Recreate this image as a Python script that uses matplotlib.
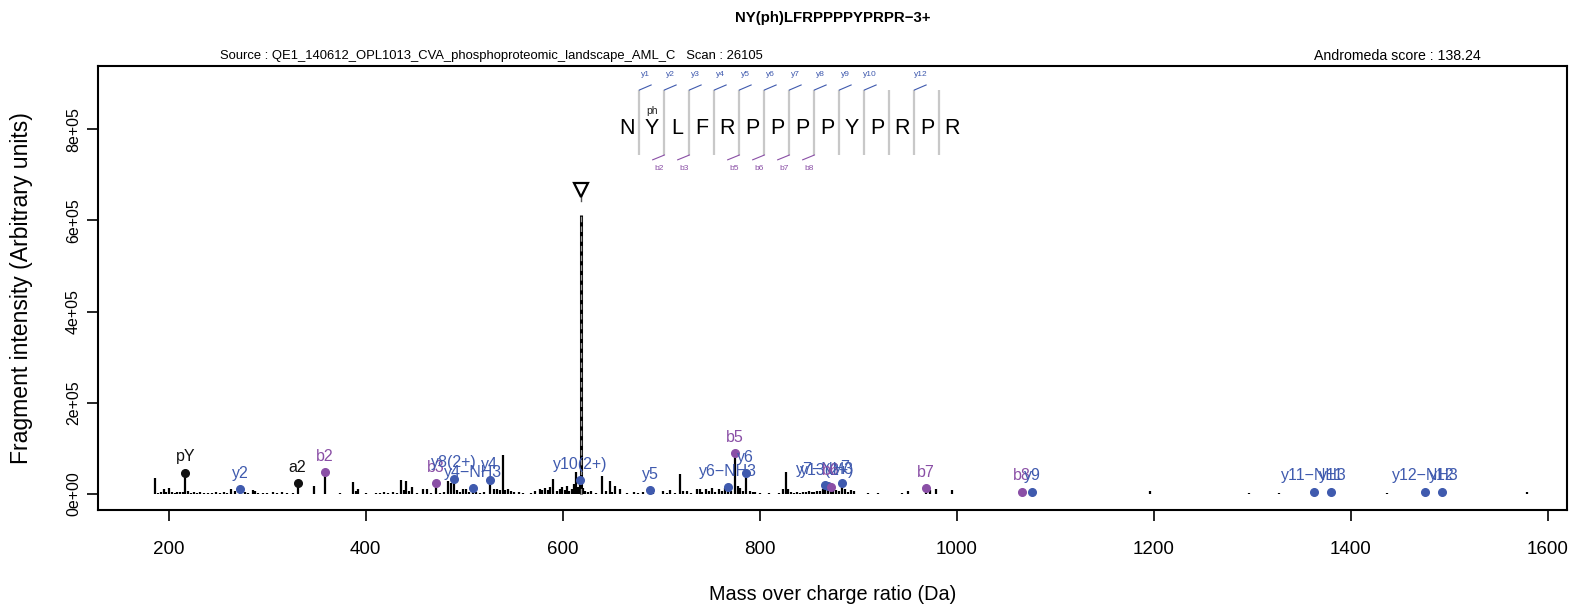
import matplotlib
matplotlib.use("Agg")
import matplotlib.pyplot as plt
import numpy as np

plt.rcParams['font.family'] = ['Liberation Sans', 'DejaVu Sans']

# ---- data ----
title = "NY(ph)LFRPPPPYPRPR\u22123+"
source_txt = "Source : QE1_140612_OPL1013_CVA_phosphoproteomic_landscape_AML_C   Scan : 26105"
score_txt = "Andromeda score : 138.24"

# unannotated peaks (m/z, intensity)
peak_mz = [186, 189, 192, 195, 197, 200, 203, 206, 209, 212, 215, 220, 223, 226, 229, 232,
           236, 240, 244, 248, 252, 256, 259, 263, 267, 278, 281, 286, 288, 291, 296, 300,
           306, 310, 315, 320, 326, 348, 374, 387, 390, 392, 400, 411, 415, 419, 423, 428,
           432, 436, 439, 441, 444, 447, 452, 458, 462, 466, 476, 480, 484, 487, 493, 496,
           499, 502, 505, 512, 516, 520, 530, 533, 536, 539.4, 542, 545, 548, 551, 556, 560,
           568, 572, 577, 579, 582, 585, 587, 590, 594, 597, 599, 602, 604, 607, 610, 612,
           614, 616, 621, 623, 626, 629, 634, 640, 644, 648, 650, 653, 658, 665, 672, 677,
           682, 692, 702, 706, 709, 714, 719, 722, 726, 730, 736, 739, 742, 746, 749, 752,
           755, 759, 762, 765, 771, 778, 780, 783, 790, 793, 795, 800, 810, 820, 824, 827,
           829, 832, 835, 838, 841, 844, 847, 850, 853, 855, 858, 861, 864, 869, 875, 878,
           881, 887, 890, 893, 896, 910, 920, 945, 951, 973, 979, 995, 1196, 1297, 1327,
           1437, 1579]
peak_int = [35000, 3000, 4000, 12000, 5000, 14000, 4000, 3000, 5000, 3500, 4000, 6000, 3000,
            4000, 3000, 3500, 2500, 3000, 2000, 3500, 2500, 5000, 3000, 12000, 6000, 4000,
            3000, 8000, 6000, 3000, 3000, 2500, 4000, 2000, 4000, 2000, 2500, 17000, 3000,
            27000, 6000, 10000, 2000, 3000, 2500, 3500, 2500, 4000, 3000, 30000, 9000, 29000,
            6000, 16000, 3000, 11000, 12000, 3000, 3000, 5000, 28000, 25000, 8000, 4000,
            12000, 10000, 5000, 4000, 3000, 5000, 10000, 12000, 9000, 85500, 8000, 10000,
            6000, 4000, 5000, 2500, 3000, 6000, 12000, 8000, 14000, 9000, 15000, 33000, 6000,
            10000, 16000, 8000, 17000, 7000, 12000, 22000, 48000, 15000, 14000, 6000, 4000,
            7000, 3000, 38700, 6000, 28000, 5000, 18000, 10000, 3000, 5000, 3000, 4000, 3000,
            6000, 3000, 9000, 3000, 44000, 6000, 7000, 3000, 10000, 12000, 4000, 11000, 6000,
            14000, 5000, 12000, 7000, 13000, 6000, 18000, 14000, 6000, 7000, 4000, 5000, 2000,
            3000, 2000, 10000, 49000, 12000, 5000, 3000, 4000, 3000, 5000, 3500, 6000, 4000,
            5000, 7000, 6000, 10000, 12000, 14000, 9000, 7000, 10000, 5000, 8000, 6000, 2000,
            3000, 2500, 7000, 8000, 11000, 8000, 6000, 2500, 3000, 3000, 3500]

# annotated fragment peaks
ann_label = ["pY", "y2", "a2", "b2", "b3", "y8(2+)", "y4\u2212NH3", "y4", "y10(2+)", "y5",
             "y6\u2212NH3", "b5", "y6", "y7\u2212NH3", "y13(2+)", "b6", "y7", "b7", "b8", "y9",
             "y11\u2212NH3", "y11", "y12\u2212NH3", "y12"]
ann_mz = [217, 273, 331, 359, 471, 490, 509, 526, 617.7, 689, 768, 774.6, 786, 866, 869,
          872, 884, 969, 1066, 1077, 1363, 1380, 1476, 1493]
ann_int = [47000, 10000, 23500, 47600, 23500, 33000, 12500, 30700, 30700, 8800, 14700,
           89000, 45400, 19700, 17000, 16000, 23500, 12500, 5000, 5000, 5000, 5000, 5000, 5000]
ann_type = ["other", "y", "other", "b", "b", "y", "y", "y", "y", "y", "y", "b", "y", "y",
            "y", "b", "y", "b", "b", "y", "y", "y", "y", "y"]

precursor_mz = 618.5
precursor_int = 612000

# peptide sequence diagram
residues = list("NYLFRPPPPYPRPR")
y_cuts = [1, 2, 3, 4, 5, 6, 7, 8, 9, 10, 12]
b_cuts = [2, 3, 5, 6, 7, 8]

colors = {"y": "#3F5AAE", "b": "#8A4FA6", "other": "#111111"}

# ---- figure ----
fig = plt.figure(figsize=(15.96, 6.09), dpi=100)
ax = fig.add_axes([0.0612, 0.1626, 0.982 - 0.0612, 0.8916 - 0.1626])

ax.vlines(peak_mz, 0, peak_int, color="black", lw=1.6)
ax.vlines(ann_mz, 0, ann_int, color="black", lw=1.6)
ax.vlines([precursor_mz], 0, [precursor_int], color="black", lw=2.2)
ax.vlines([precursor_mz], 0, [precursor_int], color="#9a9a9a", lw=1.0, linestyles=(0, (4, 3)))
ax.plot([precursor_mz, precursor_mz], [precursor_int + 30000, precursor_int + 45000],
        color="#555555", lw=1.0)
ax.plot([precursor_mz], [precursor_int + 55000], marker="v", ms=10, mfc="white",
        mec="black", mew=1.6, ls="none")

for lab, mz, it, t in zip(ann_label, ann_mz, ann_int, ann_type):
    c = colors[t]
    ax.plot([mz], [it], "o", color=c, ms=5.5, zorder=3)
    ax.annotate(lab, (mz, it), xytext=(0, 11.5), textcoords="offset points",
                ha="center", va="center", fontsize=11.5, color=c)

# sequence diagram
x0, dx = 665.3, 25.38
y_let = 802000
y_top, y_bot = 886000, 743400
for i, r in enumerate(residues):
    ax.text(x0 + dx * i, y_let, r, ha="center", va="center", fontsize=15.5, color="black")
ax.text(x0 + dx, 840000, "ph", ha="center", va="center", fontsize=7.5, color="#222222")
for k in range(1, len(residues)):
    xs = x0 + dx * (k - 0.5)
    ax.plot([xs, xs], [y_bot, y_top], color="#c8c8c8", lw=1.6, solid_capstyle="butt")
for n in y_cuts:
    xs = x0 + dx * (n - 0.5)
    ax.plot([xs, xs + 11.9], [y_top, y_top + 11000], color=colors["y"], lw=0.8)
    ax.text(xs + 6, 919000, "y%d" % n, ha="center", va="center", fontsize=6, color=colors["y"])
for n in b_cuts:
    xs = x0 + dx * (n - 0.5)
    ax.plot([xs, xs - 11.9], [y_bot, y_bot - 10500], color=colors["b"], lw=0.8)
    ax.text(xs - 5, 714000, "b%d" % n, ha="center", va="center", fontsize=6, color=colors["b"])

ax.set_xlim(128, 1620)
ax.set_ylim(-35000, 938600)
ax.set_xticks([200, 400, 600, 800, 1000, 1200, 1400, 1600])
ax.set_yticks([0, 2e5, 4e5, 6e5, 8e5])
ax.set_yticklabels(["0e+00", "2e+05", "4e+05", "6e+05", "8e+05"], rotation=90, va="center")
ax.tick_params(axis="both", direction="out", length=8, width=1.2)
ax.tick_params(axis="x", labelsize=13.5, pad=14)
ax.tick_params(axis="y", labelsize=11.5, pad=4)
for s in ax.spines.values():
    s.set_linewidth(1.5)

ax.set_xlabel("Mass over charge ratio (Da)", fontsize=14.3, labelpad=20)
ax.set_ylabel("Fragment intensity (Arbitrary units)", fontsize=16.6, labelpad=24)

fig.text(0.5217, 0.971, title, ha="center", va="center", fontsize=10.8, fontweight="bold")
fig.text(0.3077, 0.908, source_txt, ha="center", va="center", fontsize=9.4)
fig.text(0.928, 0.908, score_txt, ha="right", va="center", fontsize=10.2)

fig.savefig("out.png", dpi=100)
